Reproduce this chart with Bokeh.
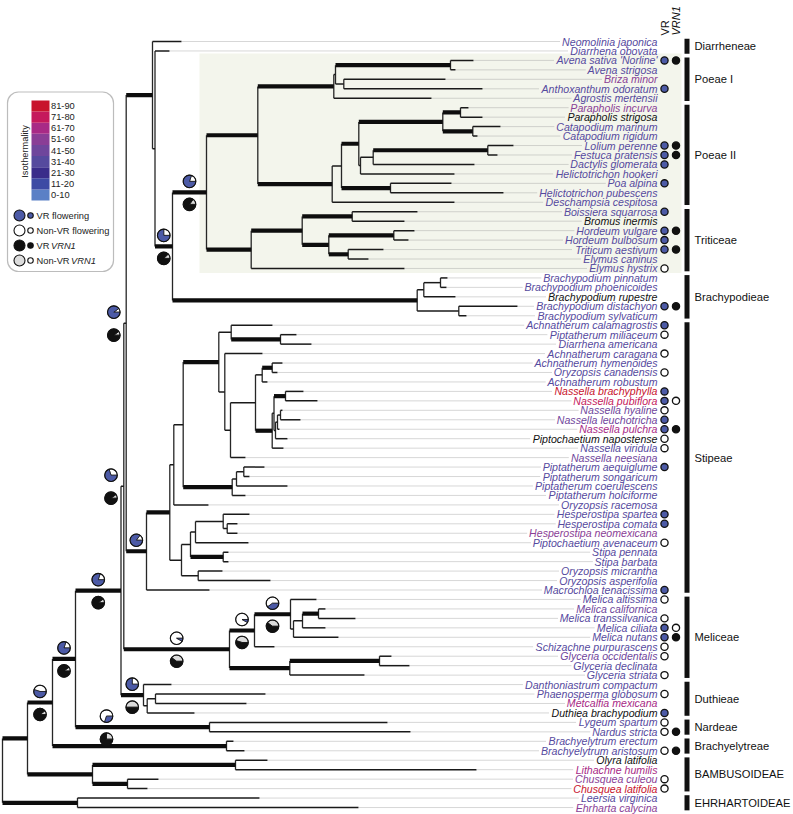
import math
from bokeh.plotting import figure
from bokeh.models import Range1d, BoxAnnotation, ColumnDataSource
from bokeh.core.properties import value
from bokeh.embed import file_html
from bokeh.resources import INLINE

# ---------------- data ----------------
tip_names = [
    "Neomolinia japonica", "Diarrhena obovata", "Avena sativa 'Norline'", "Avena strigosa",
    "Briza minor", "Anthoxanthum odoratum", "Agrostis mertensii", "Parapholis incurva",
    "Parapholis strigosa", "Catapodium marinum", "Catapodium rigidum", "Lolium perenne",
    "Festuca pratensis", "Dactylis glomerata", "Helictotrichon hookeri", "Poa alpina",
    "Helictotrichon pubescens", "Deschampsia cespitosa", "Boissiera squarrosa", "Bromus inermis",
    "Hordeum vulgare", "Hordeum bulbosum", "Triticum aestivum", "Elymus caninus",
    "Elymus hystrix", "Brachypodium pinnatum", "Brachypodium phoenicoides", "Brachypodium rupestre",
    "Brachypodium distachyon", "Brachypodium sylvaticum", "Achnatherum calamagrostis",
    "Piptatherum miliaceum", "Diarrhena americana", "Achnatherum caragana", "Achnatherum hymenoides",
    "Oryzopsis canadensis", "Achnatherum robustum", "Nassella brachyphylla", "Nassella pubiflora",
    "Nassella hyaline", "Nassella leuchotricha", "Nassella pulchra", "Piptochaetium napostense",
    "Nassella viridula", "Nassella neesiana", "Piptatherum aequiglume", "Piptatherum songaricum",
    "Piptatherum coerulescens", "Piptatherum holciforme", "Oryzopsis racemosa", "Hesperostipa spartea",
    "Hesperostipa comata", "Hesperostipa neomexicana", "Piptochaetium avenaceum", "Stipa pennata",
    "Stipa barbata", "Oryzopsis micrantha", "Oryzopsis asperifolia", "Macrochloa tenacissima",
    "Melica altissima", "Melica californica", "Melica transsilvanica", "Melica ciliata",
    "Melica nutans", "Schizachne purpurascens", "Glyceria occidentalis", "Glyceria declinata",
    "Glyceria striata", "Danthoniastrum compactum", "Phaenosperma globosum", "Metcalfia mexicana",
    "Duthiea brachypodium", "Lygeum spartum", "Nardus stricta", "Brachyelytrum erectum",
    "Brachyelytrum aristosum", "Olyra latifolia", "Lithachne humilis", "Chusquea culeou",
    "Chusquea latifolia", "Leersia virginica", "Ehrharta calycina",
]
# isothermality class of each tip (index into iso_labels; -1 = no data)
tip_iso = [3, 3, 3, 3, 5, 3, 3, 5, -1, 3, 3, 3, 3, 3, 3, 3, 3, 3, 3, -1,
           3, 3, 3, 3, 3, 3, 3, -1, 3, 3, 3, 3, 3, 3, 3, 3, 3, 8, 7, 4,
           4, 6, -1, 3, 4, 3, 3, 3, 3, 3, 3, 3, 5, 3, 3, 3, 3, 3, 3, 3,
           4, 3, 3, 3, 3, 4, 3, 3, 3, 3, 6, -1, 3, 3, 3, 3, -1, 6, 5, 8,
           3, 5]
# end of each tip branch (tree depth units)
tip_depth = [181, 169, 473, 455, 445, 482, 431, 468, 482, 500, 477, 513, 497, 474, 454, 451,
             503, 454, 417, 404, 414, 408, 383, 368, 404, 447, 446, 455, 517, 466, 272, 296,
             311, 262, 282, 277, 267, 303, 317, 282, 300, 279, 287, 283, 245, 264, 249, 287,
             245, 208, 249, 237, 237, 248, 228, 228, 222, 270, 209, 316, 325, 355, 325, 338,
             274, 391, 409, 364, 171, 265, 246, 194, 387, 410, 233, 244, 267, 476, 158, 147,
             259, 358]
# vernalization response (b = VR, w = non-VR), VRN1 (k = VR, w = non-VR)
tip_vr = ["", "", "b", "", "", "b", "", "", "", "", "", "b", "b", "b", "", "b", "", "", "b", "",
          "b", "b", "b", "", "w", "", "", "", "b", "", "b", "w", "", "w", "", "w", "", "b", "b", "w",
          "b", "b", "w", "w", "", "b", "", "", "", "", "b", "b", "", "w", "", "", "", "", "b", "w",
          "", "w", "b", "b", "w", "w", "", "w", "", "w", "", "b", "w", "w", "", "w", "", "", "w", "w",
          "", ""]
tip_vrn1 = {2: "k", 11: "k", 12: "k", 20: "k", 22: "k", 28: "k", 38: "w", 41: "k",
            62: "w", 63: "k", 73: "k", 75: "k"}

# internal nodes: id, depth, children (int = tip row, str = node id)
node_ids = ["root", "ehr", "n27", "bam", "bamA", "bamB", "n52", "bel", "n75", "nar", "f2", "dut",
            "dut1", "dut2", "f1", "mel", "mel1", "m0", "m1", "m2", "m3", "gly", "gly1", "e", "a",
            "b", "c", "bra", "bra1", "bra2", "bra3", "d", "poe", "p1", "p1a", "p1b", "p1c", "p2",
            "p2a", "hel", "q0", "q1", "q1a", "q1b", "q2", "q3", "q3a", "tri", "t1", "t2", "t3", "t4",
            "t5", "sti", "g", "g1", "g2", "s1", "h1", "h1a", "s2", "s3", "s4", "s5", "s5a", "n0",
            "n1", "n2", "n5", "n6", "n7", "pip", "pip1", "pip2", "hs", "hs1", "hs2", "hs2a", "hs2b",
            "hs3", "hs4"]
node_depth = [2, 77, 27, 92, 235, 127, 52, 226, 75, 209, 120.5, 143,
              146.7, 155, 123.3, 229, 254, 290, 293, 302, 318, 289.3, 379, 125.7, 152,
              154.5, 172, 416.7, 423.3, 440, 458.3, 206, 257.3, 333.3, 335, 450, 343.3, 331.7,
              341, 390, 358.3, 442.3, 460, 472.3, 360, 372.7, 487.3, 250.7, 301.7, 351.7, 328.3, 393.3,
              347.7, 146, 169.3, 173.3, 182.7, 218.3, 230.7, 280, 224.3, 230, 255, 261.7, 271.7, 271.7,
              273.5, 285, 275, 277, 280, 231.7, 236, 243.3, 181, 190, 195, 222.7, 226.7,
              222.7, 197.7]
node_kids = [["n27", "ehr"], [80, 81], ["n52", "bam"], ["bamA", "bamB"], [76, 77], [78, 79],
             ["n75", "bel"], [74, 75], ["f2", "nar"], [72, 73], ["f1", "dut"], [68, "dut1"],
             ["dut2", 71], [69, 70], ["e", "mel"], ["mel1", "gly"], ["m0", 64], [59, "m1"],
             ["m2", 63], ["m3", 62], [60, 61], ["gly1", 67], [65, 66], ["a", "sti"], [0, "b"],
             [1, "c"], ["d", "bra"], ["bra1", "bra3"], ["bra2", 27], [25, 26], [28, 29],
             ["poe", "tri"], ["p1", "p2"], ["p1a", 6], ["p1b", "p1c"], [2, 3], [4, 5], ["p2a", 17],
             ["q0", "hel"], [15, 16], ["q1", "q2"], ["q1a", "q1b"], [7, 8], [9, 10], ["q3", 14],
             ["q3a", 13], [11, 12], ["t1", 24], ["t2", "t3"], [18, 19], ["t4", "t5"], [20, 21],
             [22, 23], ["g", 58], ["g1", "hs"], ["g2", 49], ["s1", "pip"], ["h1", "s2"],
             [30, "h1a"], [31, 32], [33, "s3"], ["s4", 44], ["s5", "n0"], ["s5a", 36], [34, 35],
             ["n1", 43], ["n2", "n5"], [37, 38], ["n6", 42], ["n7", 41], [39, 40],
             ["pip1", 48], ["pip2", 47], [45, 46], ["hs1", "hs4"], ["hs2", "hs3"], ["hs2a", 53],
             [50, "hs2b"], [51, 52], [54, 55], [56, 57]]
# branches with strong support (drawn thick)
strong = ["n27", "ehr", "n52", "bam", "n75", "bel", "f2", "nar", "dut", "mel", "a", "sti", "c",
          "d", "bra", "poe", "tri", "p1", "p2", "p1b", "q0", "hel", "q1", "q1a", "q1b", "q3a",
          "t1", "t2", "t3", "t4", "t5", "g", "s1", "pip", "h1a", "s5a", "n0", "n2", "hs3", "mel1",
          "gly", "m0", "m3", "gly1", "bamA", "bamB"]

# ancestral-state pies: node, probability VR flowering, probability VR VRN1
pie_node = ["c", "d", "e", "f1", "sti", "f2", "mel", "mel1", "m0", "dut", "nar", "n75", "n52"]
pie_vr = [0.75, 0.8, 0.9, 0.7, 0.85, 0.8, 0.08, 0.08, 0.4, 0.75, 0.3, 0.8, 0.55]
pie_vrn1 = [0.88, 0.85, 0.9, 0.9, None, 0.9, 0.6, 0.55, 0.6, 0.5, 0.75, 0.9, 0.9]

clade_names = ["Diarrheneae", "Poeae I", "Poeae II", "Triticeae", "Brachypodieae", "Stipeae",
               "Meliceae", "Duthieae", "Nardeae", "Brachyelytreae", "BAMBUSOIDEAE", "EHRHARTOIDEAE"]
clade_first = [0, 2, 7, 18, 25, 30, 59, 68, 72, 74, 76, 80]
clade_last = [1, 6, 17, 24, 29, 58, 67, 71, 73, 75, 79, 81]

iso_labels = ["0-10", "11-20", "21-30", "31-40", "41-50", "51-60", "61-70", "71-80", "81-90"]
iso_colors = ["#5b80c6", "#3d4aa4", "#3a2c8a", "#564a9e", "#6f469c", "#8a3e96", "#a82a86",
              "#c5195c", "#c8132c"]

# ---------------- layout helpers ----------------
W, H = 793, 814
ROW_PX = 9.457
ROW0 = 41.0
def py(Y):
    return (Y - ROW0) / ROW_PX

HW = {" ": 278, "'": 191, "-": 333, "A": 667, "B": 667, "C": 722, "D": 722, "E": 667, "F": 611,
      "G": 778, "H": 722, "I": 278, "L": 556, "M": 833, "N": 722, "O": 778, "P": 667, "R": 722,
      "S": 667, "T": 611, "a": 556, "b": 556, "c": 500, "d": 556, "e": 556, "f": 278, "g": 556,
      "h": 556, "i": 222, "j": 222, "k": 500, "l": 222, "m": 833, "n": 556, "o": 556, "p": 556,
      "q": 556, "r": 333, "s": 500, "t": 278, "u": 556, "v": 500, "w": 722, "x": 500, "y": 500,
      "z": 500}
def text_w(s, fs):
    return sum(HW.get(ch, 556) for ch in s) / 1000.0 * fs

idx = {n: i for i, n in enumerate(node_ids)}
parent = {}
for nid, kids in zip(node_ids, node_kids):
    for k in kids:
        parent[k] = nid

ycache = {}
def node_y(k):
    if isinstance(k, int):
        return float(k)
    if k in ycache:
        return ycache[k]
    kids = node_kids[idx[k]]
    v = sum(node_y(c) for c in kids) / len(kids)
    ycache[k] = v
    return v

def depth(k):
    return float(tip_depth[k]) if isinstance(k, int) else float(node_depth[idx[k]])

p = figure(width=W, height=H, x_range=Range1d(0, W), y_range=Range1d(py(H), py(0)),
           output_backend="svg", toolbar_location=None, x_axis_type=None, y_axis_type=None,
           min_border=0, outline_line_color=None)
p.xgrid.visible = False
p.ygrid.visible = False

FONT = "Liberation Sans"

# shaded Pooideae core panel
p.quad(left=[199], right=[681], top=[py(53)], bottom=[py(272.5)], fill_color="#f3f5ec",
       line_color=None)

# ---------------- tree ----------------
thin = dict(x0=[], y0=[], x1=[], y1=[])
thick = dict(x0=[], y0=[], x1=[], y1=[])
vert = dict(x0=[], y0=[], x1=[], y1=[])
for nid, kids in zip(node_ids, node_kids):
    x = depth(nid)
    ys = [node_y(c) for c in kids]
    vert["x0"].append(x); vert["x1"].append(x)
    vert["y0"].append(min(ys)); vert["y1"].append(max(ys))
    for c in kids:
        tgt = thick if (isinstance(c, str) and c in strong) else thin
        tgt["x0"].append(x); tgt["x1"].append(depth(c))
        tgt["y0"].append(node_y(c)); tgt["y1"].append(node_y(c))

# dotted leaders
LFS = 10.6
lead = dict(x0=[], y0=[], x1=[], y1=[])
for i, name in enumerate(tip_names):
    lead["x0"].append(tip_depth[i] + 1)
    lead["x1"].append(657 - text_w(name, LFS) - 2)
    lead["y0"].append(i); lead["y1"].append(i)
p.segment(x0="x0", y0="y0", x1="x1", y1="y1", source=ColumnDataSource(lead),
          line_color="#9a9a9a", line_width=0.8, line_dash="1 1")

p.segment(x0="x0", y0="y0", x1="x1", y1="y1", source=ColumnDataSource(vert),
          line_color="#262626", line_width=1.3)
p.segment(x0="x0", y0="y0", x1="x1", y1="y1", source=ColumnDataSource(thin),
          line_color="#1a1a1a", line_width=1.5)
p.segment(x0="x0", y0="y0", x1="x1", y1="y1", source=ColumnDataSource(thick),
          line_color="#0d0d0d", line_width=4.2)

# tip labels
lab_col = [iso_colors[c] if c >= 0 else "#111111" for c in tip_iso]
p.text(x=[657] * len(tip_names), y=list(range(len(tip_names))), text=tip_names,
       text_color=lab_col, text_font=value(FONT), text_font_size=value(f"{LFS}px"),
       text_font_style="italic", text_align="right", text_baseline="middle")

# tip state dots
BLUE = "#4c5aa6"
for col_x, states in ((664, {i: s for i, s in enumerate(tip_vr) if s}), (675.5, tip_vrn1)):
    rows = sorted(states)
    fills = [{"b": BLUE, "k": "#111111", "w": "white"}[states[r]] for r in rows]
    p.scatter(x=[col_x] * len(rows), y=rows, size=7.2, marker="circle", fill_color=fills,
              line_color="#111111", line_width=1.3)

# ancestral pies
R = 6.3
for nid, fvr, fvrn in zip(pie_node, pie_vr, pie_vrn1):
    par = parent[nid]
    x0, x1 = depth(par), depth(nid)
    if nid == "nar":
        cx = x0 + 31
    elif x1 - x0 < 10:
        cx = x0 - 10
    else:
        cx = (x0 + x1) / 2
    cy = node_y(nid)
    for frac, col, rest, dy in ((fvr, BLUE, "white", -11), (fvrn, "#111111", "#dcdcdc", 12)):
        if frac is None:
            continue
        yy = cy + dy / ROW_PX
        a = (1 - frac) * 2 * math.pi
        p.wedge(x=[cx], y=[yy], radius=R, radius_units="screen", start_angle=0, end_angle=a,
                direction="anticlock", fill_color=rest, line_color="#111111", line_width=0.7)
        p.wedge(x=[cx], y=[yy], radius=R, radius_units="screen", start_angle=a,
                end_angle=2 * math.pi, direction="anticlock", fill_color=col,
                line_color="#111111", line_width=0.7)
        p.scatter(x=[cx], y=[yy], size=2 * R, marker="circle", fill_color=None,
                  line_color="#111111", line_width=1.1)

# clade bars and names
p.quad(left=[684] * len(clade_names), right=[689] * len(clade_names),
       top=[f - 0.3 for f in clade_first], bottom=[l + 0.3 for l in clade_last],
       fill_color="#111111", line_color=None)
p.text(x=[694] * len(clade_names), y=[(f + l) / 2 for f, l in zip(clade_first, clade_last)],
       text=clade_names, text_font=value(FONT), text_font_size=value("11.2px"),
       text_color="#111111", text_align="left", text_baseline="middle")

# column headers
p.text(x=[664], y=[py(35)], text=["VR"], angle=math.pi / 2, text_font=value(FONT),
       text_font_size=value("11px"), text_align="left", text_baseline="middle",
       text_color="#111111")
p.text(x=[675.5], y=[py(35)], text=["VRN1"], angle=math.pi / 2, text_font=value(FONT),
       text_font_size=value("11px"), text_font_style="italic", text_align="left",
       text_baseline="middle", text_color="#111111")

# ---------------- legend ----------------
p.add_layout(BoxAnnotation(left=7, right=113, top=py(91.5), bottom=py(271), fill_color=None,
                           line_color="#222222", line_width=1.2, border_radius=11))
n = len(iso_labels)
top_y, bot_y = 100.0, 200.0
ch = (bot_y - top_y) / n
tops = [py(top_y + (n - 1 - i) * ch) for i in range(n)]
bots = [py(top_y + (n - i) * ch) for i in range(n)]
p.quad(left=[31] * n, right=[49] * n, top=tops, bottom=bots, fill_color=iso_colors,
       line_color=None)
p.text(x=[50.5] * n, y=[(t + b) / 2 for t, b in zip(tops, bots)], text=iso_labels,
       text_font=value(FONT), text_font_size=value("9.3px"), text_color="#222222",
       text_align="left", text_baseline="middle")
p.text(x=[24], y=[py(151)], text=["Isothermality"], angle=math.pi / 2, text_font=value(FONT),
       text_font_size=value("9.3px"), text_color="#222222", text_align="center",
       text_baseline="middle")

leg_y = [py(215), py(230), py(245), py(260)]
big_fill = [BLUE, "white", "#111111", "#dcdcdc"]
small_fill = [BLUE, "white", "#111111", "white"]
p.scatter(x=[19] * 4, y=leg_y, size=11, marker="circle", fill_color=big_fill,
          line_color="#111111", line_width=1.1)
p.scatter(x=[30] * 4, y=leg_y, size=5.5, marker="circle", fill_color=small_fill,
          line_color="#111111", line_width=1.1)
p.text(x=[36, 36, 36], y=leg_y[:3], text=["VR flowering", "Non-VR flowering", "VR"],
       text_font=value(FONT), text_font_size=value("9.3px"), text_color="#222222",
       text_align="left", text_baseline="middle")
p.text(x=[36], y=[leg_y[3]], text=["Non-VR"], text_font=value(FONT),
       text_font_size=value("9.3px"), text_color="#222222", text_align="left",
       text_baseline="middle")
p.text(x=[36 + text_w("VR ", 9.3), 36 + text_w("Non-VR ", 9.3)], y=[leg_y[2], leg_y[3]],
       text=["VRN1", "VRN1"], text_font=value(FONT), text_font_size=value("9.3px"),
       text_font_style="italic", text_color="#222222", text_align="left",
       text_baseline="middle")

open("out.html", "w").write(file_html(p, INLINE))
